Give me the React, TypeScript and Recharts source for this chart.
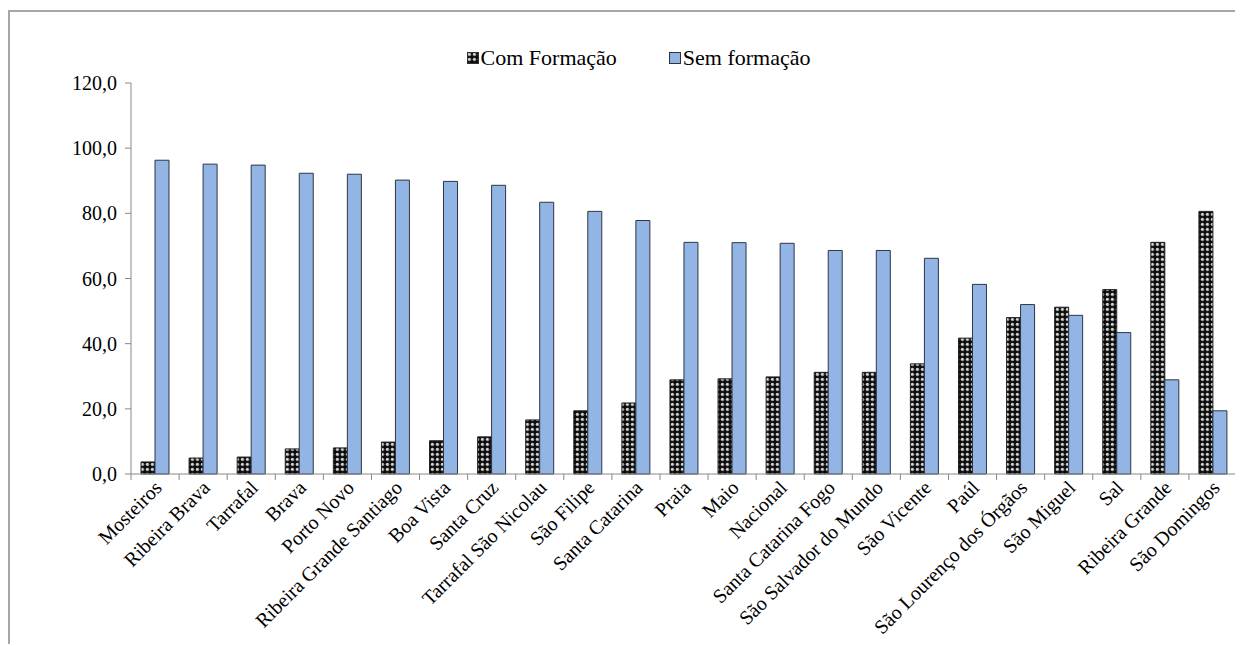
import { Bar, BarChart, XAxis, YAxis } from "recharts"

const municipios = [
  "Mosteiros",
  "Ribeira Brava",
  "Tarrafal",
  "Brava",
  "Porto Novo",
  "Ribeira Grande Santiago",
  "Boa Vista",
  "Santa Cruz",
  "Tarrafal São Nicolau",
  "São Filipe",
  "Santa Catarina",
  "Praia",
  "Maio",
  "Nacional",
  "Santa Catarina Fogo",
  "São Salvador do Mundo",
  "São Vicente",
  "Paúl",
  "São Lourenço dos Órgãos",
  "São Miguel",
  "Sal",
  "Ribeira Grande",
  "São Domingos",
]

const comFormacao = [
  3.7, 4.9, 5.2, 7.7, 8.0, 9.8, 10.2, 11.4, 16.6, 19.4, 21.8, 28.9, 29.2, 29.8, 31.2, 31.2, 33.8, 41.7, 48.0, 51.2, 56.6, 71.1, 80.6,
]

const semFormacao = [
  96.3, 95.1, 94.8, 92.3, 92.0, 90.2, 89.8, 88.6, 83.4, 80.6, 77.8, 71.1, 71.0, 70.8, 68.6, 68.6, 66.2, 58.2, 52.0, 48.7, 43.4, 28.9, 19.4,
]

const yTicks = [0, 20, 40, 60, 80, 100, 120]

const data = municipios.map((name, i) => ({
  name,
  com: comFormacao[i],
  sem: semFormacao[i],
}))

const FONT = "'Liberation Serif', 'Times New Roman', serif"
const BAND = (1227 - 122) / municipios.length

// Excel-like ticks between categories, labels rotated 45°
function CategoryTick(props: any) {
  const { x, y, payload, index } = props
  const ax = x + 8
  const ay = y + 7
  return (
    <g>
      <line x1={x - BAND / 2} y1={y - 8} x2={x - BAND / 2} y2={y - 2} stroke="#888" />
      {index === municipios.length - 1 && (
        <line x1={x + BAND / 2} y1={y - 8} x2={x + BAND / 2} y2={y - 2} stroke="#888" />
      )}
      <text
        x={ax}
        y={ay}
        transform={`rotate(-45, ${ax}, ${ay})`}
        textAnchor="end"
        fontFamily={FONT}
        fontSize={20}
        fill="#000"
      >
        {payload.value}
      </text>
    </g>
  )
}

function DotPattern({ id }: { id: string }) {
  return (
    <pattern id={id} width="5" height="5" patternUnits="userSpaceOnUse">
      <rect width="5" height="5" fill="#0d0d0d" />
      <circle cx="2.5" cy="2.5" r="1.8" fill="#9a9a9a" />
      <circle cx="2.1" cy="2.1" r="0.9" fill="#f4f4f4" />
    </pattern>
  )
}

function Marker({ pattern }: { pattern: boolean }) {
  return (
    <svg width={12} height={12} style={{ marginRight: 2 }}>
      <defs>
        <DotPattern id="legendDots" />
      </defs>
      <rect
        x={0.5}
        y={0.5}
        width={11}
        height={11}
        fill={pattern ? "url(#legendDots)" : "#93b5e5"}
        stroke="#333"
      />
    </svg>
  )
}

function ChartLegend() {
  return (
    <div
      style={{
        position: "absolute",
        top: 33,
        left: 0,
        width: 1233,
        display: "flex",
        justifyContent: "center",
        alignItems: "center",
        fontFamily: FONT,
        fontSize: 22,
        color: "#000",
        paddingLeft: 24,
        boxSizing: "border-box",
      }}
    >
      <span style={{ display: "flex", alignItems: "center", marginRight: 52 }}>
        <Marker pattern />
        Com Formação
      </span>
      <span style={{ display: "flex", alignItems: "center" }}>
        <Marker pattern={false} />
        Sem formação
      </span>
    </div>
  )
}

export default function App() {
  return (
    <div
      style={{
        position: "relative",
        top: 2,
        width: 1233,
        height: 634,
        borderTop: "2px solid #a6a6a6",
        borderLeft: "2px solid #a6a6a6",
        background: "#fff",
      }}
    >
      <ChartLegend />
      <BarChart
        width={1233}
        height={634}
        data={data}
        margin={{ top: 71, right: 6, left: 0, bottom: 0 }}
        barGap={0}
        barSize={14}
      >
        <defs>
          <DotPattern id="dots" />
        </defs>
        <XAxis
          dataKey="name"
          interval={0}
          height={172}
          axisLine={{ stroke: "#888" }}
          tickLine={false}
          tick={<CategoryTick />}
        />
        <YAxis
          width={121}
          domain={[0, 120]}
          ticks={yTicks}
          interval={0}
          axisLine={{ stroke: "#888" }}
          tickLine={{ stroke: "#888" }}
          tickSize={6}
          tickFormatter={(v: number) => v.toFixed(1).replace(".", ",")}
          tick={{ fontFamily: FONT, fontSize: 20, fill: "#000", dx: -6 }}
        />
        <Bar dataKey="com" name="Com Formação" fill="url(#dots)" stroke="#222" isAnimationActive={false} />
        <Bar dataKey="sem" name="Sem formação" fill="#93b5e5" stroke="#2f3540" isAnimationActive={false} />
      </BarChart>
    </div>
  )
}
